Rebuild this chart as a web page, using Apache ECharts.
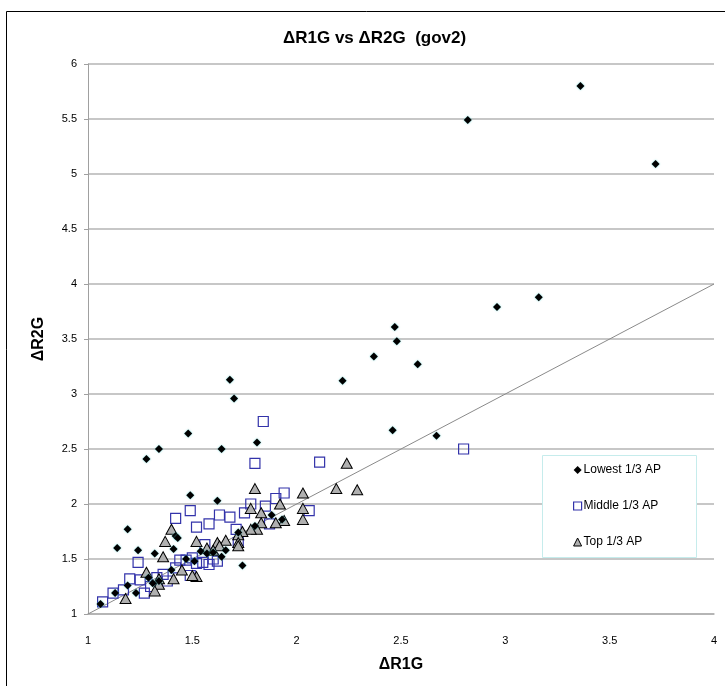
<!DOCTYPE html>
<html>
<head>
<meta charset="utf-8">
<script src="https://cdn.jsdelivr.net/npm/echarts@6/dist/echarts.min.js"></script>
<style>
html,body{margin:0;padding:0;background:#fff;}
#chart{width:725px;height:686px;}
</style>
</head>
<body>
<div id="chart"></div>
<script>
var seriesNames = ['Lowest 1/3 AP', 'Middle 1/3 AP', 'Top 1/3 AP'];
var xTicks = [1, 1.5, 2, 2.5, 3, 3.5, 4];
var yTicks = [1, 1.5, 2, 2.5, 3, 3.5, 4, 4.5, 5, 5.5, 6];
var diagonal = [[1, 1], [4, 4]];

var lowestPoints = [
  [3.36,5.80],[2.82,5.49],[3.72,5.09],[3.16,3.88],[2.96,3.79],[2.47,3.61],[2.48,3.48],
  [2.37,3.34],[2.58,3.27],[2.22,3.12],[1.68,3.13],[1.70,2.96],[2.46,2.67],[2.67,2.62],
  [1.48,2.64],[1.34,2.50],[1.64,2.50],[1.81,2.56],[1.28,2.41],[1.49,2.08],[1.62,2.03],
  [1.19,1.77],[1.14,1.60],[1.24,1.58],[1.32,1.55],[1.41,1.59],[1.42,1.71],[1.43,1.69],
  [1.88,1.90],[1.93,1.86],[1.74,1.44],[1.66,1.58],[1.72,1.74],[1.64,1.52],[1.54,1.57],
  [1.51,1.48],[1.40,1.40],[1.34,1.30],[1.31,1.28],[1.23,1.19],[1.19,1.26],[1.13,1.19],
  [1.06,1.09],[1.47,1.50],[1.57,1.55],[1.80,1.80],[1.60,1.56],[1.29,1.33]
];
var middlePoints = [
  [2.80,2.50],[1.84,2.75],[1.80,2.37],[2.11,2.38],[1.94,2.10],[1.90,2.05],[1.85,1.98],
  [2.06,1.94],[1.78,2.00],[1.75,1.92],[1.87,1.82],[1.49,1.94],[1.42,1.87],[1.52,1.79],
  [1.58,1.82],[1.63,1.90],[1.68,1.88],[1.71,1.77],[1.72,1.65],[1.56,1.63],[1.24,1.47],
  [1.44,1.49],[1.47,1.49],[1.50,1.51],[1.52,1.46],[1.55,1.47],[1.58,1.45],[1.60,1.50],
  [1.62,1.48],[1.49,1.35],[1.33,1.33],[1.38,1.30],[1.20,1.32],[1.25,1.31],[1.27,1.19],
  [1.17,1.22],[1.12,1.19],[1.07,1.11],[1.36,1.36],[1.30,1.25],[1.42,1.42]
];
var topPoints = [
  [2.24,2.37],[2.19,2.14],[2.29,2.13],[1.80,2.14],[2.03,2.10],[2.03,1.96],[2.03,1.86],
  [1.92,2.00],[1.94,1.85],[1.90,1.83],[1.78,1.96],[1.83,1.92],[1.83,1.83],[1.81,1.77],
  [1.78,1.77],[1.74,1.75],[1.72,1.72],[1.72,1.65],[1.72,1.62],[1.66,1.67],[1.62,1.65],
  [1.63,1.62],[1.57,1.60],[1.60,1.58],[1.52,1.66],[1.52,1.34],[1.40,1.77],[1.37,1.66],
  [1.36,1.52],[1.28,1.38],[1.34,1.32],[1.34,1.27],[1.41,1.32],[1.32,1.21],[1.18,1.14],
  [1.50,1.35],[1.45,1.40]
];

var FONT = '"Liberation Sans", Arial, sans-serif';
var chart = echarts.init(document.getElementById('chart'), null, {renderer: 'canvas'});
var option = {
  backgroundColor: '#ffffff',
  animation: false,
  title: {
    text: 'ΔR1G vs ΔR2G  (gov2)',
    left: 278, top: 25,
    textStyle: {fontFamily: FONT, fontSize: 17, fontWeight: 'bold', color: '#000'}
  },
  graphic: [
    {type: 'rect', z: 100, silent: true, shape: {x: 6.5, y: 11.5, width: 800, height: 800},
     style: {fill: 'none', stroke: '#000', lineWidth: 1}},
    {type: 'rect', z: 5, silent: true, shape: {x: 542.5, y: 455.5, width: 154, height: 102},
     style: {fill: '#fff', stroke: '#c6ecec', lineWidth: 1}}
  ],
  grid: {left: 88, right: 11, top: 64, bottom: 72},
  legend: {
    orient: 'vertical', left: 568, top: 459, z: 10,
    itemWidth: 8, itemHeight: 8, itemGap: 24,
    textStyle: {fontFamily: FONT, fontSize: 12, color: '#000', padding: [0,0,0,-3]},
    data: [
      {name: seriesNames[0], icon: 'diamond', itemStyle: {color: '#000', borderWidth: 0}},
      {name: seriesNames[1], icon: 'rect', itemStyle: {color: '#fff', borderColor: '#3333aa', borderWidth: 1.2}},
      {name: seriesNames[2], icon: 'triangle', itemStyle: {color: '#b0b0b0', borderColor: '#000', borderWidth: 1}}
    ]
  },
  xAxis: {
    type: 'value', min: xTicks[0], max: xTicks[xTicks.length - 1], interval: 0.5,
    name: 'ΔR1G', nameLocation: 'middle', nameGap: 43,
    nameTextStyle: {fontFamily: FONT, fontSize: 16, fontWeight: 'bold', color: '#000'},
    axisLine: {show: true, lineStyle: {color: '#b0b0b0', width: 1.5}},
    axisTick: {show: false},
    splitLine: {show: false},
    axisLabel: {margin: 21, fontFamily: FONT, fontSize: 11, color: '#000'}
  },
  yAxis: {
    type: 'value', min: yTicks[0], max: yTicks[yTicks.length - 1], interval: 0.5,
    name: 'ΔR2G', nameLocation: 'middle', nameGap: 41, nameRotate: 90,
    nameTextStyle: {fontFamily: FONT, fontSize: 16, fontWeight: 'bold', color: '#000'},
    axisLine: {show: true, lineStyle: {color: '#a0a0a0', width: 1}},
    axisTick: {show: true, length: 4, lineStyle: {color: '#a0a0a0'}},
    splitLine: {show: true, lineStyle: {color: '#b4b4b4', width: 1.5}},
    axisLabel: {margin: 11, fontFamily: FONT, fontSize: 11, color: '#000'}
  },
  series: [
    {
      type: 'line', data: diagonal, showSymbol: false, symbol: 'none', silent: true,
      lineStyle: {color: '#8a8a8a', width: 1}, z: 1
    },
    {
      name: seriesNames[1], type: 'scatter', data: middlePoints, symbol: 'rect', symbolSize: 10,
      itemStyle: {color: 'rgba(255,255,255,0)', borderColor: '#3333aa', borderWidth: 1.2, opacity: 1}, z: 2
    },
    {
      name: seriesNames[2], type: 'scatter', data: topPoints, symbol: 'triangle', symbolSize: [11, 10],
      itemStyle: {color: '#b0b0b0', borderColor: '#000', borderWidth: 1, opacity: 1}, z: 3
    },
    {
      name: seriesNames[0], type: 'scatter', data: lowestPoints, symbol: 'diamond', symbolSize: 8,
      itemStyle: {color: '#000', shadowBlur: 2, shadowColor: 'rgba(80,210,210,0.8)', opacity: 1}, z: 4
    }
  ]
};
chart.setOption(option);
</script>
</body>
</html>
